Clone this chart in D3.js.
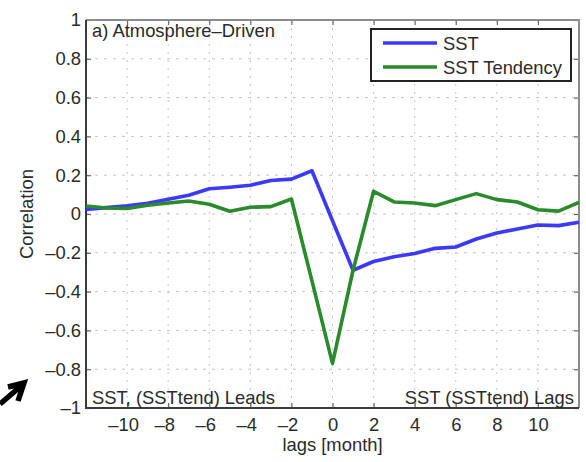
<!DOCTYPE html>
<html>
  <head>
    <meta charset="utf-8">
    <title>Atmosphere-Driven lag correlation</title>
    <script src="https://d3js.org/d3.v7.min.js"></script>
    <style>
        body { margin: 0; background: white; }
        svg { display: block; }
        text { font-family: "Liberation Sans", Arial, Helvetica, sans-serif; fill: #2a2a2a; }
    </style>
  </head>
  <body>
    <svg id="chart" width="586" height="462"></svg>
  </body>
  <script>
    // lags in months, correlation
    const lags = d3.range(-12, 13);
    const sst = [0.024, 0.033, 0.042, 0.055, 0.076, 0.097, 0.13, 0.138, 0.148, 0.173, 0.18, 0.223,
                 -0.035, -0.29, -0.245, -0.22, -0.204, -0.177, -0.17, -0.129, -0.098, -0.077, -0.057, -0.06, -0.043];
    const sstTend = [0.041, 0.031, 0.028, 0.045, 0.057, 0.067, 0.05, 0.014, 0.035, 0.038, 0.077, -0.345,
                     -0.77, -0.29, 0.117, 0.062, 0.057, 0.043, 0.074, 0.105, 0.074, 0.062, 0.022, 0.015, 0.06];
    const xTicks = [-10, -8, -6, -4, -2, 0, 2, 4, 6, 8, 10];
    const yTicks = [-1, -0.8, -0.6, -0.4, -0.2, 0, 0.2, 0.4, 0.6, 0.8, 1];
    const seriesNames = ["SST", "SST Tendency"];
    const seriesColors = ["#3a3af8", "#2b8a2b"];

    const svg = d3.select("#chart");
    const margin = {left: 86, top: 20, right: 7, bottom: 54};
    const W = 586, H = 462;
    const fs = 18.4;

    const x = d3.scaleLinear().domain([-12, 12]).range([margin.left, W - margin.right]);
    const y = d3.scaleLinear().domain([-1, 1]).range([H - margin.bottom, margin.top]);

    const fmt = d => d3.format("~g")(d).replace("−", "–").replace("-", "–");

    // dotted grid
    svg.append("g").selectAll("line")
      .data(xTicks).enter().append("line")
      .attr("x1", d => x(d)).attr("x2", d => x(d))
      .attr("y1", y(1)).attr("y2", y(-1))
      .attr("stroke", "#c4c4c4").attr("stroke-width", 1)
      .attr("stroke-dasharray", "2,6");
    svg.append("g").selectAll("line")
      .data(yTicks.slice(1, -1)).enter().append("line")
      .attr("x1", x(-12)).attr("x2", x(12))
      .attr("y1", d => y(d)).attr("y2", d => y(d))
      .attr("stroke", "#c4c4c4").attr("stroke-width", 1)
      .attr("stroke-dasharray", "3,6");

    // axes with inward ticks
    const xAxis = svg.append("g")
      .attr("transform", `translate(0,${y(-1)})`)
      .call(d3.axisBottom(x).tickValues(xTicks).tickSize(-5).tickPadding(10).tickFormat(fmt));
    xAxis.selectAll("text").attr("dx", d => d < 0 ? -4 : 0);
    svg.append("g")
      .attr("transform", `translate(0,${y(1)})`)
      .call(d3.axisTop(x).tickValues(xTicks).tickSize(-5).tickFormat(""));
    svg.append("g")
      .attr("transform", `translate(${x(-12)},0)`)
      .call(d3.axisLeft(y).tickValues(yTicks).tickSize(-5).tickPadding(5).tickFormat(fmt));
    svg.append("g")
      .attr("transform", `translate(${x(12)},0)`)
      .call(d3.axisRight(y).tickValues(yTicks).tickSize(-5).tickFormat(""));

    svg.selectAll(".domain").remove();
    svg.selectAll(".tick line").attr("stroke", "#666").attr("stroke-width", 1.2);
    svg.selectAll(".tick text").style("font-size", fs + "px").attr("fill", "#2a2a2a");

    // box
    svg.append("path")
      .attr("d", `M${x(-12)},${y(1)}H${x(12)}V${y(-1)}`)
      .attr("fill", "none").attr("stroke", "#8c8c8c").attr("stroke-width", 2);
    svg.append("path")
      .attr("d", `M${x(-12)},${y(1)}V${y(-1)}H${x(12)}`)
      .attr("fill", "none").attr("stroke", "#3a3a3a").attr("stroke-width", 2);

    // lines
    const line = d3.line().x((d, i) => x(lags[i])).y(d => y(d));
    [sst, sstTend].forEach((s, k) => {
        svg.append("path")
          .datum(s)
          .attr("d", line)
          .attr("fill", "none")
          .attr("stroke", seriesColors[k])
          .attr("stroke-width", 3.6)
          .attr("stroke-linejoin", "round");
    });

    // texts
    svg.append("text").attr("x", 92).attr("y", 37)
      .style("font-size", fs + "px").text("a) Atmosphere–Driven");
    svg.append("text").attr("x", 92).attr("y", 404)
      .style("font-size", fs + "px").text("SST, (SSTtend) Leads");
    svg.append("text").attr("x", 574).attr("y", 404).attr("text-anchor", "end")
      .style("font-size", fs + "px").text("SST (SSTtend) Lags");
    svg.append("text").attr("x", x(0)).attr("y", 451).attr("text-anchor", "middle")
      .style("font-size", fs + "px").text("lags [month]");
    svg.append("text")
      .attr("transform", `translate(33,${y(0)}) rotate(-90)`)
      .attr("text-anchor", "middle")
      .style("font-size", fs + "px").text("Correlation");

    // legend
    const lg = svg.append("g").attr("transform", "translate(371,29)");
    lg.append("rect").attr("width", 200).attr("height", 52)
      .attr("fill", "white").attr("stroke", "#222").attr("stroke-width", 2);
    seriesNames.forEach((n, i) => {
        lg.append("line").attr("x1", 12).attr("x2", 66)
          .attr("y1", 14 + i * 24).attr("y2", 14 + i * 24)
          .attr("stroke", seriesColors[i]).attr("stroke-width", 3.6);
        lg.append("text").attr("x", 72).attr("y", 21 + i * 24)
          .style("font-size", fs + "px").text(n);
    });

    // arrow at lower left
    svg.append("path")
      .attr("d", "M0,404L21,386M8,387L24,383L18,401")
      .attr("fill", "none").attr("stroke", "black").attr("stroke-width", 5.5)
      .attr("stroke-linejoin", "miter");
  </script>
</html>
